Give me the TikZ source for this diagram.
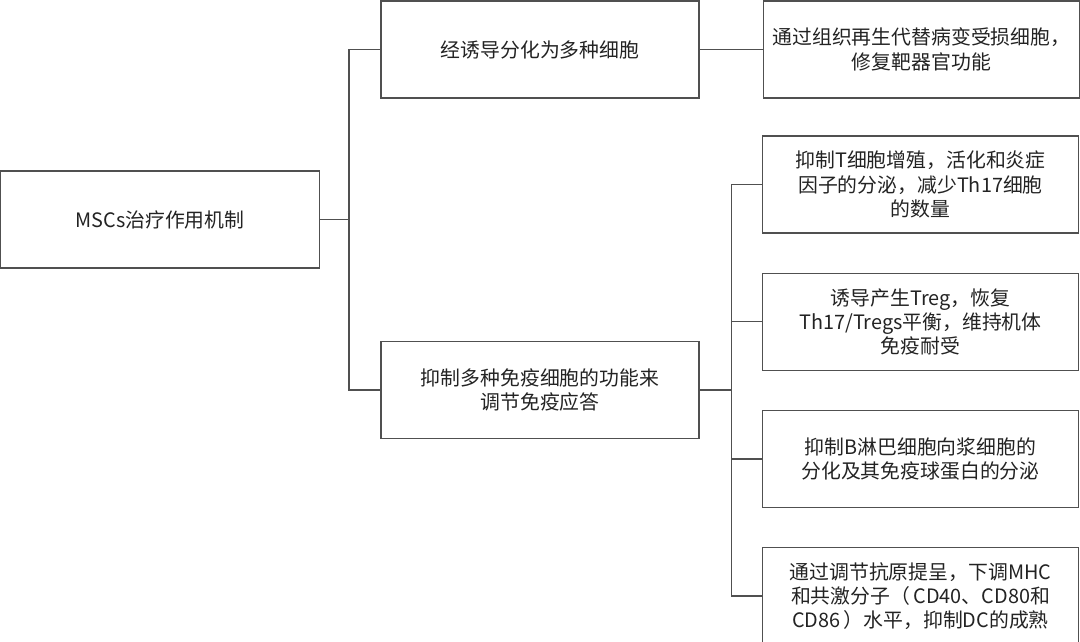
\documentclass[tikz,border=0pt]{standalone}
\usepackage{fontspec}
\setmainfont{Noto Sans CJK SC}
\usetikzlibrary{positioning}
\definecolor{linegray}{RGB}{80,80,80}
\definecolor{textgray}{RGB}{35,35,35}

\begin{document}
\begin{tikzpicture}[x=0.02cm, y=-0.02cm, color=linegray, line width=0.7pt,
        every node/.style={draw, text=textgray, align=center, inner sep=0pt,
            minimum height=1.94cm, font=\fontsize{11.3}{13.8}\selectfont},
        midbox/.style={minimum width=6.36cm},
        leafbox/.style={minimum width=6.33cm},
        node distance=0.78cm]
        \useasboundingbox (0,0) rectangle (1080,642);

        \node[minimum width=6.38cm] (root) at (160,219.5) {MSCs治疗作用机制};
        \node[midbox] (a) at (540,49.5) {经诱导分化为多种细胞};
        \node[midbox] (b) at (540,390) {抑制多种免疫细胞的功能来\\调节免疫应答};

        \node[leafbox] (c) [right=1.26cm of a] {通过组织再生代替病变受损细胞，\\修复靶器官功能};
        \node[leafbox] (t1) at (920.5,184.5) {抑制T细胞增殖，活化和炎症\\因子的分泌，减少Th17细胞\\的数量};
        \node[leafbox] (t2) [below=of t1] {诱导产生Treg，恢复\\Th17/Tregs平衡，维持机体\\免疫耐受};
        \node[leafbox] (t3) [below=of t2] {抑制B淋巴细胞向浆细胞的\\分化及其免疫球蛋白的分泌};
        \node[leafbox] (t4) [below=of t3] {通过调节抗原提呈，下调MHC\\和共激分子（\,CD40、CD80和\\CD86\,）水平，抑制DC的成熟};

        \draw (root.east) -- ++(29,0) coordinate (j1);
        \draw (a.west) -| (j1) |- (b.west);
        \path (a) edge (c);
        \draw (b.east) -- ++(32,0) coordinate (j2);
        \draw (t1.west) -| (j2) |- (t4.west);
        \draw (t2.west) -- (t2.west -| j2)
            (t3.west) -- (t3.west -| j2);
    \end{tikzpicture}
\end{document}
